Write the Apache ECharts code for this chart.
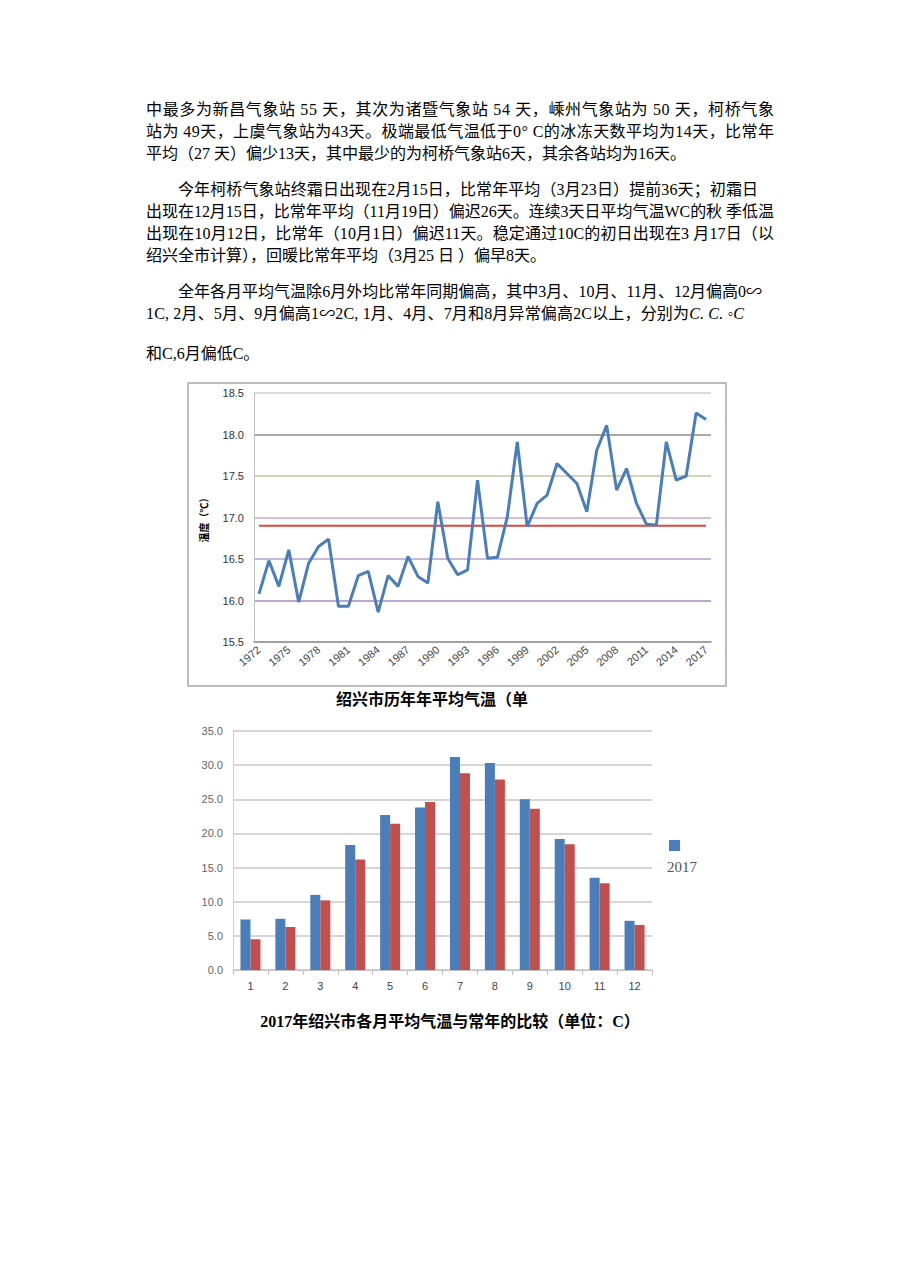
<!DOCTYPE html>
<html>
<head>
<meta charset="utf-8">
<script src="https://cdn.jsdelivr.net/npm/echarts@6/dist/echarts.min.js"></script>
<style>
html,body{margin:0;padding:0;background:#fff;}
#page{position:relative;width:920px;height:1276px;overflow:hidden;}
#chart{position:absolute;left:0;top:0;width:920px;height:1276px;}
.ln{position:absolute;height:22px;line-height:22px;font-size:16px;color:#000;white-space:nowrap;
 font-family:"Liberation Serif","Noto Sans CJK SC",serif;z-index:2;}
</style>
</head>
<body>
<div id="page">
<div id="chart"></div>
<div class="ln j" data-w="628" style="left:146px;top:99px;">中最多为新昌气象站 55 天，其次为诸暨气象站 54 天，嵊州气象站为 50 天，柯桥气象</div>
<div class="ln j" data-w="628" style="left:146px;top:121px;">站为 49天，上虞气象站为43天。极端最低气温低于0° C的冰冻天数平均为14天，比常年</div>
<div class="ln" style="left:146px;top:143px;">平均（27 天）偏少13天，其中最少的为柯桥气象站6天，其余各站均为16天。</div>
<div class="ln j" data-w="580" style="left:178px;top:179px;">今年柯桥气象站终霜日出现在2月15日，比常年平均（3月23日）提前36天；初霜日</div>
<div class="ln j" data-w="628" style="left:146px;top:201px;">出现在12月15日，比常年平均（11月19日）偏迟26天。连续3天日平均气温WC的秋 季低温</div>
<div class="ln j" data-w="628" style="left:146px;top:223px;">出现在10月12日，比常年（10月1日）偏迟11天。稳定通过10C的初日出现在3 月17日（以</div>
<div class="ln" style="left:146px;top:245px;">绍兴全市计算），回暖比常年平均（3月25 日 ）偏早8天。</div>
<div class="ln j" data-w="584" style="left:178px;top:281px;">全年各月平均气温除6月外均比常年同期偏高，其中3月、10月、11月、12月偏高0∽</div>
<div class="ln j" data-w="598" style="left:146px;top:303px;">1C, 2月、5月、9月偏高1∽2C, 1月、4月、7月和8月异常偏高2C以上，分别为<i>C. C. ◦C</i></div>
<div class="ln" style="left:146px;top:343px;">和C,6月偏低C。</div>
</div>
<script>
// fit justified lines to their target widths
document.querySelectorAll('.j').forEach(function(el){
  var target = +el.getAttribute('data-w');
  var nat = el.getBoundingClientRect().width;
  var n = Array.from(el.textContent).length;
  if (n > 1) el.style.letterSpacing = ((target - nat) / (n - 1)) + 'px';
});

// ---- Data ----
const years = ['1972','1973','1974','1975','1976','1977','1978','1979','1980','1981','1982','1983','1984','1985','1986','1987','1988','1989','1990','1991','1992','1993','1994','1995','1996','1997','1998','1999','2000','2001','2002','2003','2004','2005','2006','2007','2008','2009','2010','2011','2012','2013','2014','2015','2016','2017'];
const annualTemp = [16.08,16.48,16.17,16.61,15.98,16.45,16.65,16.74,15.93,15.93,16.30,16.35,15.86,16.30,16.17,16.53,16.29,16.21,17.19,16.51,16.31,16.37,17.45,16.51,16.52,17.01,17.91,16.89,17.17,17.27,17.65,17.53,17.41,17.07,17.81,18.11,17.33,17.59,17.17,16.92,16.91,17.91,17.45,17.50,18.26,18.18];
const normalAnnual = 16.9;
const months = ['1','2','3','4','5','6','7','8','9','10','11','12'];
const temp2017 = [7.4,7.5,11.0,18.3,22.7,23.8,31.2,30.3,25.0,19.2,13.5,7.2];
const tempNormal = [4.5,6.3,10.2,16.2,21.4,24.6,28.8,27.9,23.6,18.4,12.7,6.6];
const lineTitle = '绍兴市历年年平均气温（单';
const barTitle = '2017年绍兴市各月平均气温与常年的比较（单位：C）';
const lineYName = '温度（℃）';
const seriesNames = ['2017','常年'];

const chart = echarts.init(document.getElementById('chart'), null, {renderer:'svg', width:920, height:1276});
const sans = 'Liberation Sans, Noto Sans CJK SC, sans-serif';
const cjk = 'Liberation Serif, Noto Sans CJK SC, serif';
chart.setOption({
  animation:false,
  backgroundColor:'transparent',
  title:[
    {text:lineTitle, left:432, top:691, textAlign:'center', padding:0,
     textStyle:{fontSize:16, fontWeight:'bold', color:'#000', fontFamily:cjk}},
    {text:barTitle, left:450, top:1013, textAlign:'center', padding:0,
     textStyle:{fontSize:16, fontWeight:'bold', color:'#000', fontFamily:cjk}}
  ],
  legend:{data:[seriesNames[0]], left:669, top:840, padding:0, itemWidth:11, itemHeight:11, icon:'rect',
    formatter:function(){return '';}, selectedMode:false},
  graphic:[
    {type:'rect', shape:{x:188,y:383,width:538,height:303}, style:{fill:'none', stroke:'#a8a8a8', lineWidth:1.5}, z:-1},
    {type:'text', x:667, y:859, style:{text:seriesNames[0], fontSize:15, fontFamily:'Liberation Serif, serif', fill:'#555'}}
  ],
  grid:[
    {left:254, top:393, width:457, height:249},
    {left:233, top:731, width:419, height:239}
  ],
  xAxis:[
    {gridIndex:0, type:'category', data:years, boundaryGap:true,
     axisLine:{lineStyle:{color:'#9a9a9a', width:1.5}}, axisTick:{show:false},
     axisLabel:{interval:2, rotate:40, fontSize:11, color:'#444', margin:6, fontFamily:sans}},
    {gridIndex:1, type:'category', data:months, boundaryGap:true,
     axisLine:{lineStyle:{color:'#c0c0c0'}}, axisTick:{show:true, length:5, lineStyle:{color:'#c0c0c0'}},
     axisLabel:{fontSize:11, color:'#444', margin:10, fontFamily:sans}}
  ],
  yAxis:[
    {gridIndex:0, type:'value', min:15.5, max:18.5, interval:0.5,
     name:lineYName, nameLocation:'middle', nameGap:46, nameRotate:90,
     nameTextStyle:{fontSize:10, fontWeight:'bold', color:'#000', fontFamily:'Noto Sans CJK SC'},
     axisLine:{show:true, lineStyle:{color:'#c4c4c4'}}, axisTick:{show:false},
     axisLabel:{fontSize:11, color:'#333', margin:10, fontFamily:sans, formatter:function(v){return v.toFixed(1);}},
     splitLine:{show:true, lineStyle:{width:1.5, color:['#a896bc','#a48cbc','#b8a2c8','#d2a6c8','#c4c6a4','#8c8c8c','#cfcfcf']}}},
    {gridIndex:1, type:'value', min:0, max:35, interval:5,
     axisLine:{show:true, lineStyle:{color:'#d0d0d0'}}, axisTick:{show:false},
     axisLabel:{fontSize:11, color:'#666', margin:10, fontFamily:sans, formatter:function(v){return v.toFixed(1);}},
     splitLine:{show:true, lineStyle:{color:'#c8c8c8', width:1.5}}}
  ],
  series:[
    {name:'年平均气温', type:'line', xAxisIndex:0, yAxisIndex:0, data:annualTemp,
     symbol:'none', lineStyle:{color:'#4a7ebb', width:3}, itemStyle:{color:'#4a7ebb'}, z:3},
    {name:'常年平均', type:'line', xAxisIndex:0, yAxisIndex:0, data:years.map(function(){return normalAnnual;}),
     symbol:'none', lineStyle:{color:'#e0453c', width:2}, itemStyle:{color:'#e0453c'}, z:2},
    {name:seriesNames[0], type:'bar', xAxisIndex:1, yAxisIndex:1, data:temp2017,
     barWidth:10, barGap:'0%', itemStyle:{color:'#4a7ebb'}},
    {name:seriesNames[1], type:'bar', xAxisIndex:1, yAxisIndex:1, data:tempNormal,
     barWidth:10, barGap:'0%', itemStyle:{color:'#c0504d'}}
  ]
});
</script>
</body>
</html>
